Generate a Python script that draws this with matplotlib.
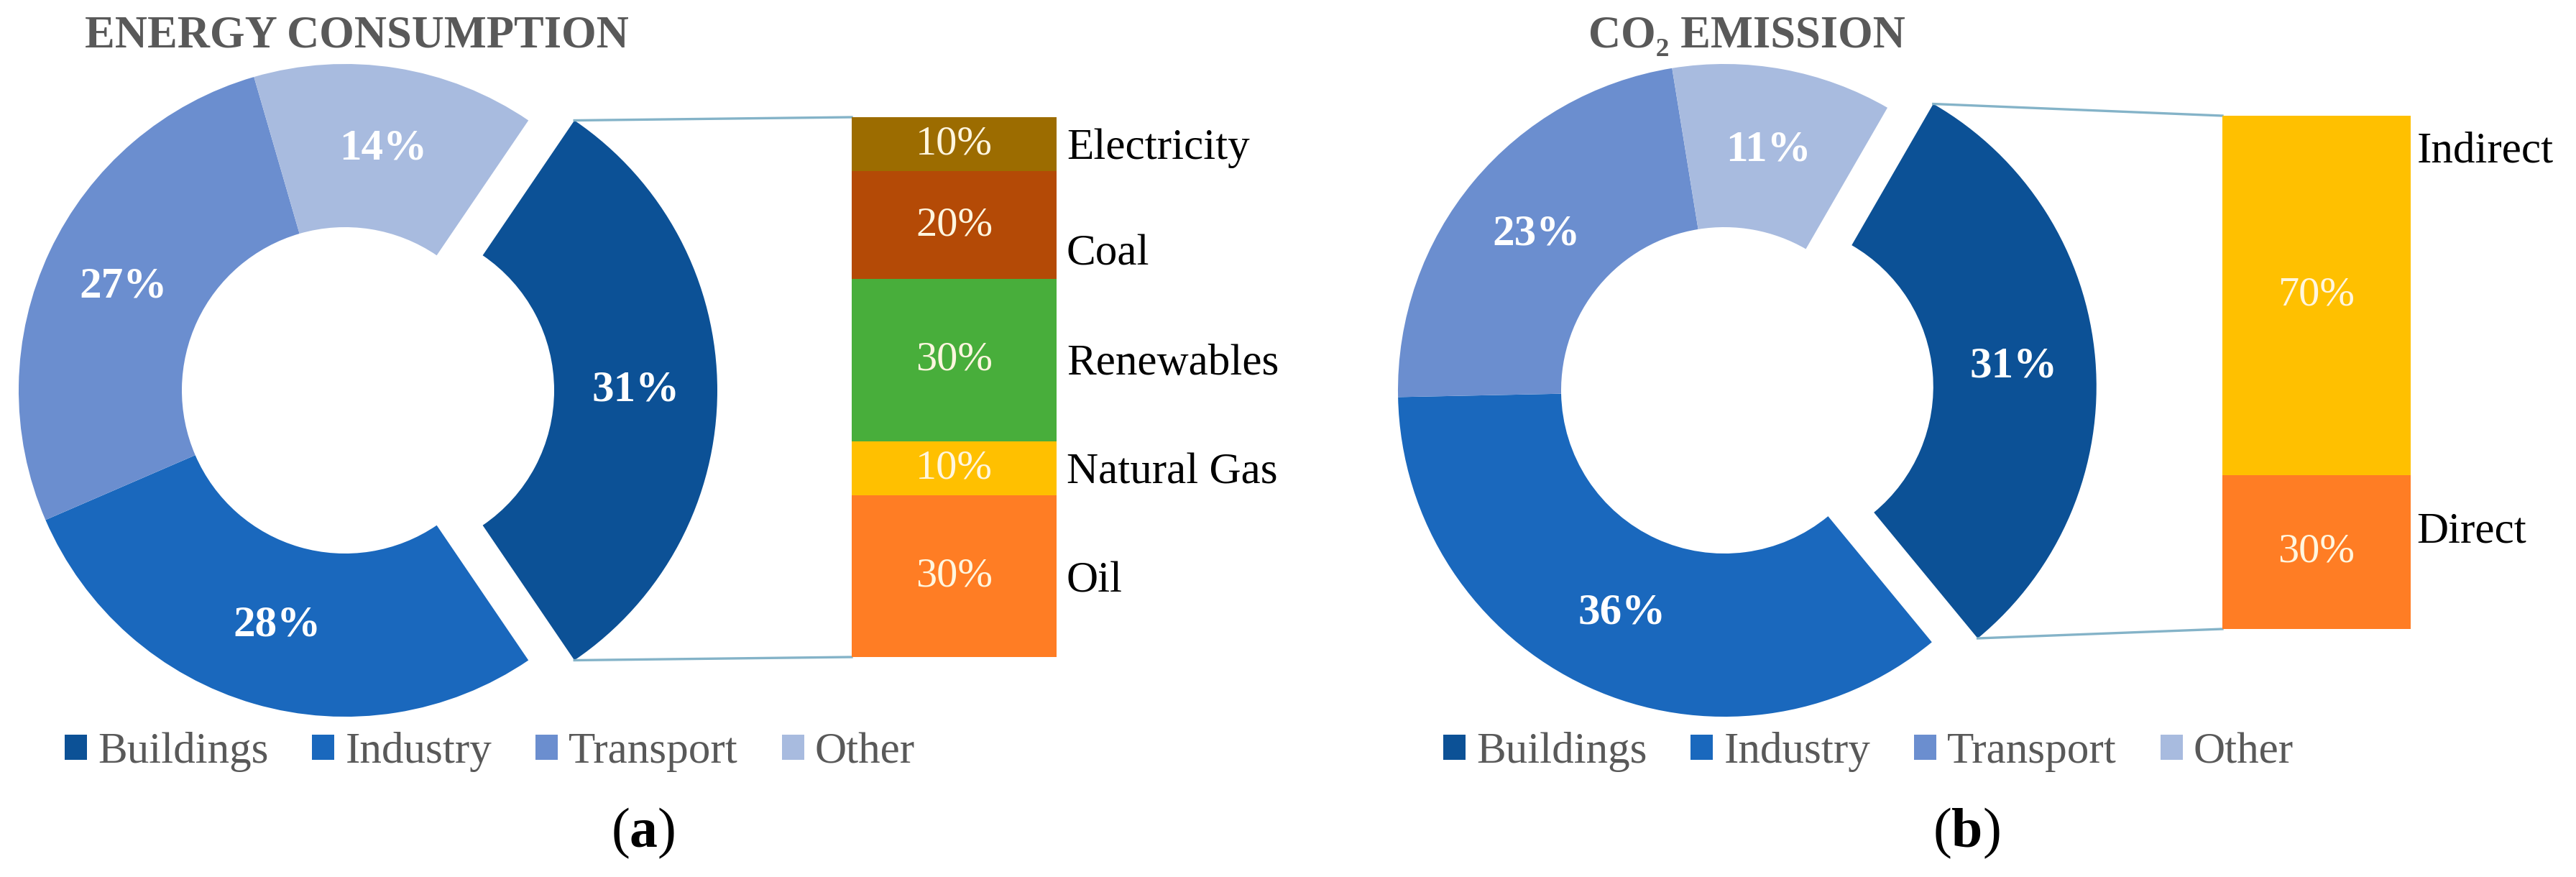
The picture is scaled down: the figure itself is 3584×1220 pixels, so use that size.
import matplotlib.pyplot as plt
from matplotlib.patches import Patch
import numpy as np

# serif look like the original (Times New Roman -> Liberation Serif)
plt.rcParams['font.family'] = ['Liberation Serif', 'DejaVu Serif']
plt.rcParams['mathtext.fontset'] = 'custom'
plt.rcParams['mathtext.rm'] = 'Liberation Serif'
plt.rcParams['mathtext.bf'] = 'Liberation Serif:bold'

# ---- data ----
sectors = ['Buildings', 'Industry', 'Transport', 'Other']
energy_share = [31, 28, 27, 14]
co2_share = [31, 36, 23, 11]

# breakdown of the Buildings slice, listed top to bottom as in the bars
energy_sources = ['Electricity', 'Coal', 'Renewables', 'Natural Gas', 'Oil']
energy_source_share = [10, 20, 30, 10, 30]
co2_types = ['Indirect', 'Direct']
co2_type_share = [70, 30]

# ---- style ----
sector_colors = ['#0c5196', '#1a68bd', '#6b8ecf', '#a8bbdf']
source_colors = ['#9c6c00', '#b44a06', '#48ae3b', '#ffc000', '#ff7d24']
type_colors = ['#ffc000', '#ff7d24']
line_color = '#84b3c8'
gray = '#595959'
pct_color = '#fff6df'

W, H = 3584, 1220          # canvas in pixels
R = 454                    # donut outer radius (px)
EXPLODE = 64               # Buildings slice pull-out (px)

fig = plt.figure(figsize=(W / 200, H / 200), dpi=200)
ax = fig.add_axes([0, 0, 1, 1])


def donut(center, values, startangle):
    wedges, _, autotexts = ax.pie(
        values, colors=sector_colors, startangle=startangle, counterclock=False,
        radius=R, center=center, explode=[EXPLODE] + [0] * (len(values) - 1),
        autopct='%.0f%%', pctdistance=0.75,
        wedgeprops=dict(width=R * 0.5, linewidth=0),
        textprops=dict(color='white', fontsize=22, fontweight='bold'))
    return wedges


def stacked_bar(rect, labels, values, colors, nudges, gap):
    bax = fig.add_axes(rect)
    bottom = 0
    # stack from the bottom up, so walk the top-to-bottom lists backwards
    for lab, v, c, dy in zip(labels[::-1], values[::-1], colors[::-1], nudges[::-1]):
        bax.bar(0, v, bottom=bottom, width=1, color=c, linewidth=0)
        bax.text(0, bottom + v / 2, f'{v}%', ha='center', va='center',
                 color=pct_color, fontsize=21)
        bax.annotate(lab, xy=(0.5, bottom + v / 2 + dy), xytext=(gap, 0),
                     textcoords='offset points', ha='left', va='center',
                     fontsize=22, color='black', annotation_clip=False)
        bottom += v
    bax.set_xlim(-0.5, 0.5)
    bax.set_ylim(0, sum(values))
    bax.axis('off')
    return bax


def connect(wedge, bax):
    # lines from the exploded slice's outer corners to the bar's left edge
    cx, cy = wedge.center
    to_px = ax.transData.inverted()
    top = to_px.transform(bax.transAxes.transform((0, 1)))
    bot = to_px.transform(bax.transAxes.transform((0, 0)))
    for theta, end in [(wedge.theta2, top), (wedge.theta1, bot)]:
        x0 = cx + wedge.r * np.cos(np.radians(theta))
        y0 = cy + wedge.r * np.sin(np.radians(theta))
        ax.plot([x0, end[0]], [y0, end[1]], color=line_color, lw=1.2)


# ---- donuts (pie resets the limits, so fix them afterwards) ----
wa = donut((480, H - 543), energy_share, 55.8)
wb = donut((2399, H - 543), co2_share, 60)

ax.set_xlim(0, W)
ax.set_ylim(0, H)
ax.set_aspect('auto')
ax.axis('off')

# ---- breakdown bars + connector lines ----
bar_a = stacked_bar([1185 / W, (H - 914) / H, 285 / W, 751 / H],
                    energy_sources, energy_source_share, source_colors,
                    [-0.7, -5.4, -0.7, -0.9, -1.0], 5)
connect(wa[0], bar_a)

bar_b = stacked_bar([3092 / W, (H - 875) / H, 262 / W, 714 / H],
                    co2_types, co2_type_share, type_colors, [28, 4], 3)
connect(wb[0], bar_b)

# titles
ax.text(496, H - 51, 'ENERGY CONSUMPTION', ha='center', va='center',
        fontsize=22.5, fontweight='bold', color=gray)
ax.text(2430, H - 51, 'CO₂ EMISSION', ha='center', va='center',
        fontsize=22.5, fontweight='bold', color=gray)

# legends under each donut
handles = [Patch(facecolor=c, label=s) for s, c in zip(sectors, sector_colors)]
leg_kw = dict(handles=handles, loc='center left', bbox_transform=ax.transData,
              ncol=4, frameon=False, fontsize=22, handlelength=0.5,
              handleheight=0.5, handletextpad=0.25, columnspacing=1.0,
              borderpad=0, borderaxespad=0, labelcolor=gray)
leg_a = ax.legend(bbox_to_anchor=(90, H - 1046), **leg_kw)
ax.add_artist(leg_a)
ax.legend(bbox_to_anchor=(2008, H - 1046), **leg_kw)

# panel letters
ax.text(895, H - 1159, r'($\mathbf{a}$)', ha='center', va='center', fontsize=28)
ax.text(2736, H - 1159, r'($\mathbf{b}$)', ha='center', va='center', fontsize=28)

fig.savefig('out.png', dpi=200)
